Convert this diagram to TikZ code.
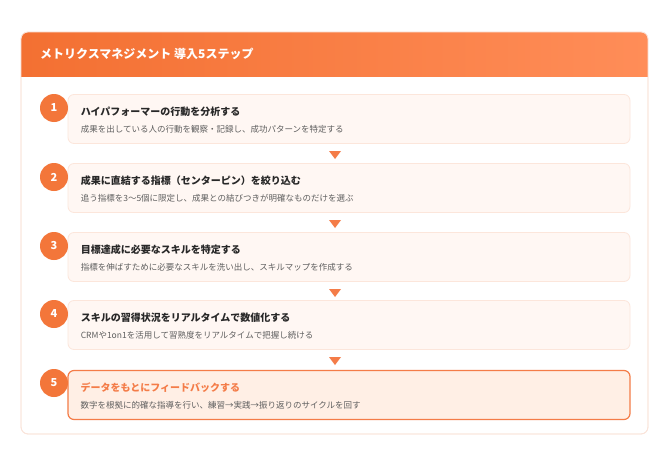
\documentclass[tikz,border=0pt]{standalone}
\usepackage{fontspec}
\newfontfamily\jp{Noto Sans CJK JP}
\usetikzlibrary{calc}

\definecolor{hdrleft}{RGB}{243,112,50}
\definecolor{hdrright}{RGB}{255,141,88}
\definecolor{cardline}{RGB}{250,228,218}
\definecolor{boxfill}{RGB}{255,247,243}
\definecolor{boxline}{RGB}{252,230,219}
\definecolor{hotfill}{RGB}{255,239,229}
\definecolor{hotline}{RGB}{244,124,72}
\definecolor{badge}{RGB}{243,118,58}
\definecolor{titleink}{RGB}{40,40,40}
\definecolor{subink}{RGB}{95,95,95}

\tikzset{
	stepbox/.style={rectangle, rounded corners=6pt, draw=boxline, fill=boxfill, line width=0.8pt, minimum width=562pt, minimum height=49pt},
	hotbox/.style={stepbox, draw=hotline, fill=hotfill, line width=1.2pt},
	badge/.style={circle, fill=badge, minimum size=28pt, inner sep=0pt, text=white, font=\jp\bfseries\fontsize{11}{12}\selectfont},
	steptitle/.style={anchor=west, inner sep=0pt, text=titleink, font=\jp\bfseries\fontsize{10}{12}\selectfont},
	stepsub/.style={anchor=west, inner sep=0pt, text=subink, font=\jp\fontsize{8.5}{10}\selectfont},
	marker/.style={fill=hotline}
}

\begin{document}
\begin{tikzpicture}[x=1pt, y=-1pt]
		\useasboundingbox (0,0) rectangle (670,466);
		
		% card and header
		\fill[white, draw=cardline, line width=0.8pt, rounded corners=7pt] (21,32) rectangle (648,434);
		\begin{scope}
			\clip[rounded corners=7pt] (21,32) rectangle (648,434);
			\shade[left color=hdrleft, right color=hdrright] (21,32) rectangle (648,76);
		\end{scope}
		\draw[cardline, line width=0.8pt, rounded corners=7pt] (21,32) rectangle (648,434);
		\node[anchor=west, inner sep=0pt, text=white, font=\jp\bfseries\fontsize{12}{14}\selectfont] (head) at (40,54) {メトリクスマネジメント 導入5ステップ};
		
		% steps
		\node[stepbox] (s1) at (349,119) {};
		\node[stepbox] (s2) at (349,188) {};
		\node[stepbox] (s3) at (349,257) {};
		\node[stepbox] (s4) at (349,325) {};
		\node[hotbox] (s5) at (349,395) {};
		
		\node[badge] (b1) at (54,108) {1};
		\node[badge] (b2) at (54,177) {2};
		\node[badge] (b3) at (54,246) {3};
		\node[badge] (b4) at (54,314) {4};
		\node[badge] (b5) at (54,383) {5};
		
		\node[steptitle] (t1) at ($(s1.west)+(13,-7)$) {ハイパフォーマーの行動を分析する};
		\node[stepsub] (d1) at ($(s1.west)+(13,10)$) {成果を出している人の行動を観察・記録し、成功パターンを特定する};
		\node[steptitle] (t2) at ($(s2.west)+(13,-7)$) {成果に直結する指標（センターピン）を絞り込む};
		\node[stepsub] (d2) at ($(s2.west)+(13,10)$) {追う指標を3〜5個に限定し、成果との結びつきが明確なものだけを選ぶ};
		\node[steptitle] (t3) at ($(s3.west)+(13,-7)$) {目標達成に必要なスキルを特定する};
		\node[stepsub] (d3) at ($(s3.west)+(13,10)$) {指標を伸ばすために必要なスキルを洗い出し、スキルマップを作成する};
		\node[steptitle] (t4) at ($(s4.west)+(13,-7)$) {スキルの習得状況をリアルタイムで数値化する};
		\node[stepsub] (d4) at ($(s4.west)+(13,10)$) {CRMや1on1を活用して習熟度をリアルタイムで把握し続ける};
		\node[steptitle, text=hotline] (t5) at ($(s5.west)+(13,-7)$) {データをもとにフィードバックする};
		\node[stepsub] (d5) at ($(s5.west)+(13,10)$) {数字を根拠に的確な指導を行い、練習→実践→振り返りのサイクルを回す};
		
		% markers between steps
		\coordinate (m1) at (335,155);
		\coordinate (m2) at (335,224);
		\coordinate (m3) at (335,293);
		\coordinate (m4) at (335,361);
		\fill[marker] ($(m1)+(-6,-4)$) -- ($(m1)+(6,-4)$) -- ($(m1)+(0,4)$) -- cycle;
		\fill[marker] ($(m2)+(-6,-4)$) -- ($(m2)+(6,-4)$) -- ($(m2)+(0,4)$) -- cycle;
		\fill[marker] ($(m3)+(-6,-4)$) -- ($(m3)+(6,-4)$) -- ($(m3)+(0,4)$) -- cycle;
		\fill[marker] ($(m4)+(-6,-4)$) -- ($(m4)+(6,-4)$) -- ($(m4)+(0,4)$) -- cycle;
	\end{tikzpicture}
\end{document}
